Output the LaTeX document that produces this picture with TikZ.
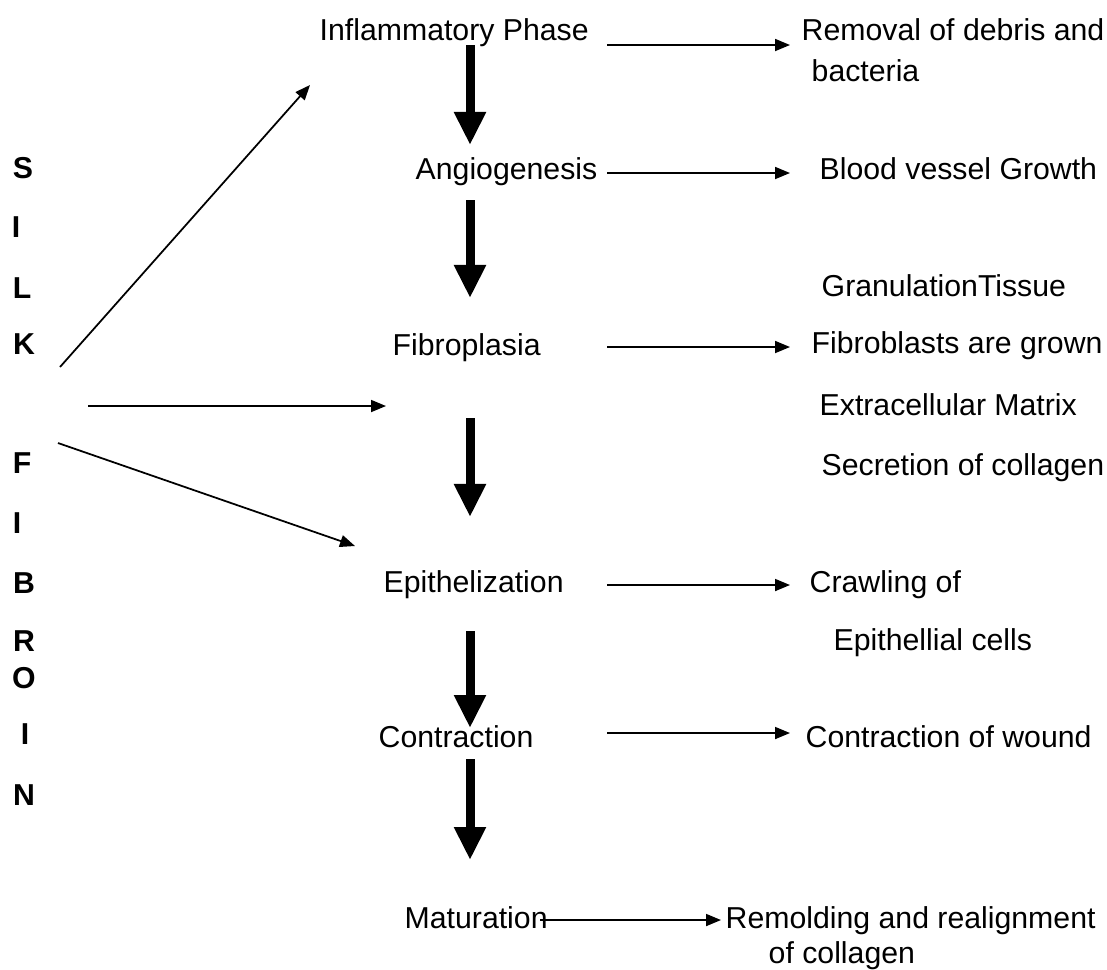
\documentclass[tikz,border=0pt]{standalone}
\usepackage{fontspec}
\setmainfont{Liberation Sans}
\usetikzlibrary{arrows.meta}
\usetikzlibrary{positioning}

\begin{document}
\begin{tikzpicture}[
	x=0.01cm,
	y=-0.01cm,
	font=\fontsize{8.6pt}{10pt}\selectfont
]
\tikzset{
    phase/.style = {anchor=base west, inner sep=0pt},
    letter/.style = {anchor=base, inner sep=0pt, font=\fontsize{8.6pt}{10pt}\selectfont\bfseries},
    edget/.style = {-{Triangle[length=0.15cm, width=0.12cm]}, line width=0.5pt},
    edgek/.style = {-{Triangle[length=0.33cm, width=0.30cm]}, line width=0.09cm},
}
\useasboundingbox (0,0) rectangle (1107,969);
% silk fibroin, one letter a line
\foreach \c/\x/\y [count=\i] in {S/23/178, I/16/237, L/22/298, K/24/354,
    F/22/473, I/17/533, B/24/593, R/24/651, O/24/688, I/25/744, N/24/805}
    \node[letter] (l\i) at (\x,\y) {\c};
%
\node[phase] at (319,40) (infl) {Inflammatory Phase};
\node[phase] at (415,179) (angio) {Angiogenesis};
\node[phase] at (392,355) (fibro) {Fibroplasia};
\node[phase] at (383,592) (epith) {Epithelization};
\node[phase] at (378,747) (contr) {Contraction};
\node[phase] at (404,928) (matur) {Maturation};
%
\node[phase] at (801,40) (rem) {Removal of debris and};
\node[phase] at (811,81) (bact) {bacteria};
\node[phase] at (819,179) (blood) {Blood vessel Growth};
\node[phase] at (821,296) (gran) {GranulationTissue};
\node[phase] at (811,353) (fibgr) {Fibroblasts are grown};
\node[phase] at (819,415) (ecm) {Extracellular Matrix};
\node[phase] at (821,475) (secr) {Secretion of collagen};
\node[phase] at (809,592) (crawl) {Crawling of};
\node[phase] at (833,650) (epcell) {Epithellial cells};
\node[phase] at (805,747) (wound) {Contraction of wound};
\node[phase] at (725,928) (remold) {Remolding and realignment};
\node[phase] at (768,963) (ofcol) {of collagen};
%
\coordinate (s1) at (60,367);
\coordinate (s2) at (88,406);
\coordinate (s3) at (58,443);
\coordinate (t1) at (310,85);
\coordinate (t2) at (386,406);
\coordinate (t3) at (355,546);
\draw[edget] (s1) -- (t1);
\draw[edget] (s2) -- (t2);
\draw[edget] (s3) -- (t3);
%
\foreach \y [count=\i] in {45,173,347,585,733}
{
    \coordinate (r\i) at (607,\y);
    \coordinate (q\i) at (790,\y);
    \draw[edget] (r\i) -- (q\i);
}
\coordinate (r6) at (540,920);
\coordinate (q6) at (721,920);
\draw[edget] (r6) -- (q6);
%
\foreach \a/\b [count=\i] in {45/145, 200/298, 418/517, 631/728, 759/860}
{
    \coordinate (d\i) at (470,\a);
    \coordinate (e\i) at (470,\b);
    \draw[edgek] (d\i) -- (e\i);
}
\end{tikzpicture}
\end{document}
